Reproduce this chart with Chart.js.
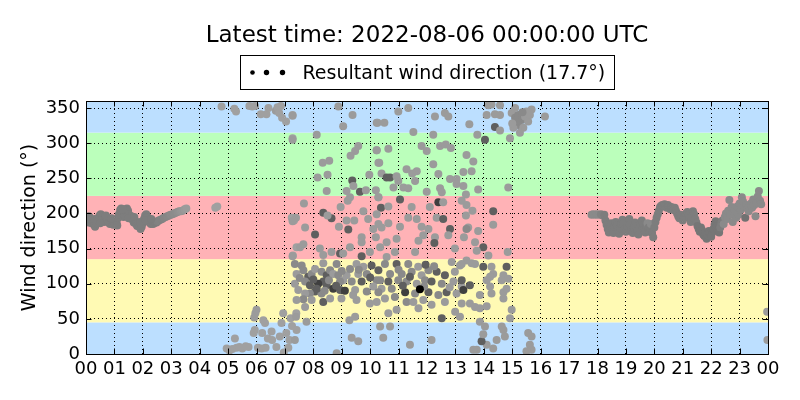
<!DOCTYPE html>
<html>
<head>
<meta charset="utf-8">
<script src="https://cdn.jsdelivr.net/npm/chart.js@4.4.1/dist/chart.umd.min.js"></script>
<style>
  html, body { margin: 0; padding: 0; background: #fff; }
  #wrap { width: 800px; height: 400px; position: relative; }
</style>
</head>
<body>
<div id="wrap"><canvas id="windChart"></canvas></div>
<script>
// each point: [hour of day (UTC), wind direction (deg), speed estimate (m/s)]
const nightBand = [
  [0.00,190,2],[0.04,193,2],[0.08,187,2],[0.12,195,2],[0.16,191,2],[0.20,186,2],[0.24,189,2],[0.28,184,2],
  [0.32,181,2],[0.36,186,2],[0.40,190,2],[0.44,194,2],[0.48,197,2],[0.52,199,2],[0.56,195,2],[0.60,191,2],
  [0.64,188,2],[0.68,192,2],[0.72,195,2],[0.76,190,2],[0.80,187,2],[0.84,185,2],[0.88,189,2],[0.92,186,2],
  [0.96,184,2],[1.00,188,2],[1.04,191,2],[1.08,186,2],[1.12,193,2],[1.16,199,2],[1.20,205,2],[1.24,207,2],
  [1.28,201,2],[1.32,195,2],[1.36,197,2],[1.40,203,2],[1.44,207,2],[1.48,204,2],[1.52,198,2],[1.56,193,2],
  [1.60,196,2],[1.64,191,2],[1.68,187,2],[1.72,190,2],[1.76,185,2],[1.80,182,2],[1.84,186,2],[1.88,181,2],
  [1.92,178,2],[1.96,181,2],[2.00,186,2],[2.04,192,2],[2.08,197,2],[2.12,199,2],[2.16,195,2],[2.20,190,2],
  [2.24,187,2],[2.28,185,2],[2.32,187,2],[2.36,185,2],[2.40,186,2],[2.44,188,2],[2.48,187,2],[2.52,189,1.8],
  [2.56,190,1.8],[2.62,191,1.8],[2.68,192,1.8],[2.74,194,1.7],[2.80,195,1.7],[2.86,196,1.6],[2.92,197,1.6],
  [2.98,198,1.5],[3.04,199,1.5],[3.10,200,1.4],[3.16,201,1.4],[3.22,202,1.3],[3.28,203,1.2],[3.34,203,1.1],
  [3.40,204,1],[3.47,206,0.9],[3.53,207,0.8],
  [0.10,196,2],[0.30,192,2],[0.50,186,2],[0.70,197,2],[0.90,193,2],[1.10,183,2],[1.30,206,2],[1.50,193,2],
  [1.70,195,2],[1.90,188,2],[2.10,190,2],[2.30,192,2]
];

const morningCalm = [
  [4.55,208,0.6],[4.62,210,0.6],
  [4.77,352,0.6],[5.22,349,0.6],[5.28,345,0.6],[5.75,353,0.6],[5.85,352,0.6],[5.95,353,0.6],[6.15,341,0.6],
  [6.35,341,0.6],[6.42,350,0.6],[6.68,346,0.8],[6.74,351,0.6],[6.80,343,0.6],[6.86,353,0.6],[6.90,336,0.6],
  [7.04,331,0.6],[7.27,340,0.6],[7.27,307,0.6],
  [4.95,8,0.6],[5.05,5,0.6],[5.15,7,0.6],[5.24,22,0.6],[5.30,9,0.6],[5.40,10,0.6],[5.50,8,0.6],[5.62,11,0.6],
  [5.72,10,0.6],[5.92,52,0.8],[5.96,58,0.8],[6.00,63,0.8],[5.94,34,0.6],[5.90,30,0.6],[6.05,9,0.6],[6.18,8,0.6],
  [6.20,30,0.6],[6.24,48,0.6],[6.30,44,0.6],[6.32,9,0.6],[6.40,22,0.6],[6.53,32,0.6],[6.55,20,0.6],[6.70,10,0.6],
  [6.82,25,0.6],[6.88,44,0.6],[6.94,58,0.6],[6.96,2,0.6],[7.05,30,0.6],[7.12,9,0.6],[7.16,20,0.6],[7.20,51,0.6],
  [7.25,40,0.6],[7.41,34,0.6],[7.40,58,0.6],
  [7.24,194,0.6],[7.32,190,0.6],[7.28,140,0.6],[7.41,152,0.6]
];

const lateMorning = [
  [7.27,339,0.8],[8.88,352,0.8],[9.38,340,0.8],[9.05,324,0.8],[10.23,329,0.8],[8.12,312,0.8],[7.27,305,0.8],
  [9.58,296,0.8],[9.47,289,0.8],[9.31,282,0.8],[10.23,290,0.8],[8.56,275,0.8],[8.33,272,0.8],[10.32,272,0.8],
  [8.50,255,0.8],[8.15,251,0.8],[9.37,247,3.2],[9.41,239,0.8],[9.97,255,0.8],[8.47,232,0.8],[9.17,232,0.8],
  [9.64,231,3.2],[9.85,233,0.8],[10.20,233,0.8],[9.29,223,0.8],[9.21,218,0.8],[10.29,223,0.8],[7.67,214,0.8],
  [8.96,209,0.8],[8.35,201,3.2],[8.64,193,3.2],[8.50,197,0.8],[7.39,194,0.8],[7.27,189,0.8],[7.71,180,0.8],
  [9.17,190,0.8],[9.44,190,0.8],[9.76,203,0.8],[9.93,192,0.8],[8.90,181,0.8],[9.23,177,3.2],[8.06,170,3.2],
  [10.11,178,0.8],[10.29,185,0.8],[9.70,166,0.8],[7.65,156,0.8],[7.53,152,0.8],[9.29,152,0.8],[9.70,159,0.8],
  [7.27,139,0.8],[8.23,150,0.8],[8.35,141,0.8],[8.64,145,0.8],[8.94,143,3.2],[9.05,143,0.8],[9.70,139,3.2],
  [9.99,145,0.8],[10.20,166,0.8],
  [7.35,128,1.5],[7.59,126,1.5],[7.41,114,0.8],[7.65,119,1.5],[7.82,110,3.2],[7.71,103,1.5],[7.88,98,3.2],
  [7.94,114,1.5],[8.06,121,0.8],[8.29,117,1.5],[8.47,112,3.2],[8.59,119,1.5],[8.70,114,0.8],[8.88,112,1.5],
  [8.35,103,3.2],[8.17,100,4.5],[8.47,98,3.2],[8.70,93,4.5],[8.94,91,3.2],[9.11,90,4.5],[8.06,89,3.2],
  [7.88,86,1.5],[7.71,86,0.8],[7.47,91,0.8],[7.35,100,0.8],[7.65,78,1.5],[7.41,77,0.8],[7.71,67,0.8],
  [8.35,74,3.2],[8.29,86,1.5],[8.59,79,0.8],[9.47,91,0.8],[9.52,77,0.8],[9.88,89,1.5],[9.70,103,3.2],
  [9.88,114,1.5],[10.05,126,3.2],[9.76,124,0.8],[10.23,105,1.5],[10.11,96,0.8],[9.99,72,0.8],[9.35,103,1.5],
  [9.17,112,0.8],[9.05,105,0.8],[9.29,121,1.5],[9.52,128,0.8],[8.82,128,1.5],[8.35,129,0.8],[9.58,114,0.8],
  [8.94,103,1.5],[7.94,77,0.8],[8.99,79,0.8],[7.39,53,0.8],[7.76,46,0.8],[9.27,48,0.8],[9.47,53,0.8],
  [7.52,108,1.5],[8.00,106,3.2],[8.12,93,3.2],[8.40,90,1.5],[8.55,105,1.5],[8.80,97,3.2],[9.00,118,1.5],
  [9.40,84,0.8],[9.60,120,1.5],[10.00,109,3.2],
  [7.35,20,0.8],[9.35,23,0.8],[9.58,18,0.8],[8.82,1,0.8]
];

const midday = [
  [10.99,345,0.8],[11.34,350,0.8],[12.28,338,0.8],[12.63,343,0.8],[12.75,338,0.8],[10.26,329,0.8],[10.50,329,0.8],
  [11.52,316,0.8],[12.22,312,0.8],[11.81,296,0.8],[11.99,289,0.8],[12.46,296,0.8],[12.66,298,0.8],[12.84,293,0.8],
  [10.64,292,0.8],[10.23,290,0.8],[12.22,270,0.8],[12.40,256,0.8],[11.64,260,0.8],[11.48,257,0.8],[11.28,263,0.8],
  [10.29,272,0.8],[10.40,257,0.8],[10.58,251,3.2],[10.70,251,3.2],[10.93,253,0.8],[10.99,246,0.8],[11.58,246,0.8],
  [11.17,237,0.8],[11.34,236,0.8],[12.46,236,0.8],[12.81,249,0.8],[13.04,249,0.8],[11.99,231,0.8],[12.52,230,0.8],
  [13.04,242,0.8],[10.82,237,0.8],
  [11.05,220,3.2],[12.40,216,4.5],[12.10,209,0.8],[12.57,216,0.8],[10.29,223,0.8],[10.38,208,3.2],[10.64,210,0.8],
  [11.46,209,0.8],[10.23,199,0.8],[11.34,194,0.8],[11.64,192,0.8],[12.34,194,0.8],[12.57,192,3.2],[10.40,180,0.8],
  [10.64,186,0.8],[11.05,181,0.8],[11.81,181,0.8],[12.05,178,0.8],[12.81,178,3.2],[11.87,169,0.8],[11.70,161,0.8],
  [12.28,166,0.8],[12.75,169,0.8],[10.35,152,0.8],[10.93,164,0.8],[10.58,159,0.8],[12.26,158,3.2],[12.98,150,0.8],
  [10.87,145,0.8],[11.58,145,0.8],[10.58,138,0.8],
  [10.52,128,1.5],[10.93,128,3.2],[11.34,128,1.5],[11.69,124,0.8],[12.05,119,1.5],[12.34,117,3.2],[12.87,131,0.8],
  [13.16,126,0.8],[10.29,119,3.2],[10.70,114,1.5],[11.11,114,1.5],[11.46,117,1.5],[11.81,112,0.8],[12.63,112,3.2],
  [12.98,117,0.8],[10.35,105,1.5],[10.64,103,3.2],[10.99,105,1.5],[11.28,103,1.5],[11.64,100,0.8],[11.93,105,1.5],
  [12.16,103,3.2],[12.52,100,1.5],[12.93,103,0.8],[13.22,96,0.8],[10.40,93,0.8],[10.76,93,1.5],[11.23,88,4.5],
  [11.58,86,1.5],[12.05,88,3.2],[12.40,84,1.5],[12.69,88,3.2],[13.04,86,0.8],[10.23,74,0.8],[10.52,79,0.8],
  [10.87,81,1.5],[11.28,74,1.5],[11.52,74,0.8],[11.87,77,0.8],[12.16,70,0.8],[12.63,74,0.8],[10.93,63,0.8],
  [10.64,58,0.8],[11.70,65,0.8],[12.52,51,3.2],[12.99,60,0.8],[13.16,53,0.8],[10.29,88,1.5],[11.00,120,1.5],
  [11.40,110,3.2],[11.90,96,1.5],[12.25,125,1.5],[12.80,95,0.8],[11.15,97,3.2],[11.95,127,3.2],[11.75,92,7],
  [10.35,39,0.8],[10.70,39,0.8],[10.46,23,0.8],[11.40,13,0.8],[12.16,20,0.8]
];

const afternoon = [
  [14.16,354,0.8],[14.27,355,0.8],[14.57,354,0.8],[14.10,340,0.8],[14.39,341,0.8],[14.57,340,0.8],[13.49,327,0.8],
  [14.39,323,3.2],[14.57,318,0.8],[14.04,305,3.2],[14.92,307,0.8],[14.98,343,0.8],[15.10,336,1.5],[15.21,340,1.5],
  [15.33,333,1.5],[15.45,338,0.8],[15.56,331,0.8],[15.62,340,0.8],[15.21,326,1.5],[15.04,322,0.8],[15.39,322,0.8],
  [15.50,345,0.8],[15.27,315,0.8],[15.10,350,0.8],[15.68,348,0.8],[15.15,331,1.5],[15.00,328,0.8],[15.36,344,1.5],
  [16.15,338,0.8],
  [13.77,312,0.8],[13.39,283,0.8],[13.63,274,0.8],[13.28,259,0.8],[13.57,260,0.8],[13.80,234,0.8],[14.86,237,0.8],
  [13.28,239,0.8],[13.37,227,0.8],
  [13.22,218,0.8],[13.39,212,0.8],[13.60,204,0.8],[13.37,197,0.8],[14.33,203,3.2],[14.33,184,0.8],[13.45,180,0.8],
  [13.39,178,1.5],[13.80,175,0.8],[13.30,166,0.8],[13.69,159,0.8],[13.98,152,3.2],[14.16,140,0.8],[14.84,145,0.8],
  [13.75,147,0.8],[13.39,133,0.8],
  [13.22,128,0.8],[13.57,129,0.8],[13.69,128,0.8],[13.98,124,3.2],[14.27,124,0.8],[14.33,114,0.8],[14.22,110,0.8],
  [14.10,105,0.8],[14.69,112,0.8],[14.80,124,3.2],[14.63,105,0.8],[14.86,107,0.8],[13.22,105,3.2],[13.51,98,3.2],
  [13.28,91,4.5],[14.22,96,0.8],[14.27,86,0.8],[14.69,88,0.8],[14.80,93,0.8],[13.86,84,0.8],[13.51,72,0.8],
  [13.69,67,0.8],[13.86,65,0.8],[14.10,68,0.8],[14.69,79,0.8],[14.98,63,0.8],[14.92,51,0.8],[13.22,72,0.8],
  [13.86,46,0.8],[14.04,39,0.8],[14.63,39,0.8],[14.69,34,0.8],[14.74,25,0.8],[14.45,20,0.8],[14.10,13,0.8],
  [13.92,18,3.2],[13.75,6,0.8],[13.63,6,0.8],[14.33,8,0.8],[15.56,30,0.8],[15.62,13,0.8],[15.68,6,0.8],
  [15.50,4,0.8],[15.68,25,0.8],[13.98,28,0.8]
];

const eveningBand = [
  [17.79,198,1.5],[17.85,199,1.5],[17.92,198,1.5],[17.98,199,1.5],[18.05,198,1.5],[18.12,199,1.8],[18.18,197,1.8],
  [18.24,198,2],[18.28,190,2],[18.32,184,2],[18.36,178,2],[18.40,173,2],[18.44,180,2],[18.48,186,2],[18.52,176,2],
  [18.56,172,2],[18.60,181,2],[18.64,188,2],[18.68,183,2],[18.72,177,2],[18.76,171,2],[18.80,179,2],[18.84,185,2],
  [18.88,191,2],[18.92,186,2],[18.96,178,2],[19.00,174,2],[19.04,182,2],[19.08,188,2],[19.12,192,2],[19.16,185,2],
  [19.20,178,2],[19.24,172,2],[19.28,180,2],[19.32,187,2],[19.36,181,2],[19.40,175,2],[19.44,170,2],[19.48,178,2],
  [19.52,184,2],[19.56,190,2],[19.60,183,2],[19.64,177,2],[19.68,173,2],[19.72,181,2],[19.76,186,1.5],[19.80,180,2],
  [19.84,174,2],[19.88,185,1.5],[19.92,172,2],[19.96,166,2],[20.00,180,2],[20.04,188,2],[20.08,194,2],[20.12,199,2],
  [20.16,204,2],[20.20,209,2],[20.24,211,2],[20.28,212,2],[20.32,210,2],[20.36,213,2],[20.40,211,2],[20.44,208,2],
  [20.48,212,2],[20.52,210,2],[20.56,206,2],[20.60,209,2],[20.64,207,2],[20.68,205,2],[20.72,208,2],[20.76,204,2],
  [20.80,200,2],[20.84,196,2],[20.88,193,2],[20.92,198,2],[20.96,195,2],[21.00,190,2],[21.04,194,2],[21.08,197,2],
  [21.12,200,2],[21.16,202,2],[21.20,198,2],[21.24,193,2],[21.28,188,2],[21.32,195,2],[21.36,203,2],[21.40,199,2],
  [21.44,192,2],[21.48,187,2],[21.52,182,2.3],[21.56,178,2.3],[21.60,174,2.3],[21.64,180,2.3],[21.68,176,2.3],
  [21.72,170,2.3],[21.76,168,2.3],[21.80,172,2.3],[21.84,164,2.3],[21.88,169,2.3],[21.92,175,2.3],[21.96,171,2.3],
  [22.00,167,2.3],[22.04,173,2.3],[22.08,178,2.3],[22.12,184,2.3],[22.16,189,2.3],[22.20,182,2.3],[22.24,176,2.3],
  [22.28,173,2.3],[22.32,180,2],[22.36,186,2],[22.40,190,2],[22.44,185,1.5],[22.48,195,1.5],[22.52,200,1.5],
  [22.56,192,1.5],[22.60,204,1.5],[22.64,219,1.5],[22.68,198,1.5],[22.72,209,1.5],[22.76,188,1.5],[22.80,201,1.5],
  [22.84,205,1.5],[22.88,194,1.5],[22.92,210,1.5],[22.96,198,1.5],[23.00,214,1.5],[23.04,205,1.5],[23.08,223,1.5],
  [23.12,217,1.5],[23.16,210,1.5],[23.20,194,2.5],[23.24,212,1.5],[23.28,207,1.5],[23.32,203,1.5],[23.40,214,1.5],
  [23.44,208,1.5],[23.48,220,1.5],[23.52,212,1.5],[23.56,196,1.5],[23.60,215,1.5],[23.64,224,1.5],[23.68,232,1.5],
  [23.72,218,1.5],[23.76,213,1.5],
  [23.97,60,0.8],[23.98,20,0.8]
];

const xTickHours = [0,1,2,3,4,5,6,7,8,9,10,11,12,13,14,15,16,17,18,19,20,21,22,23,24];
const xTickLabels = ["00","01","02","03","04","05","06","07","08","09","10","11","12",
  "13","14","15","16","17","18","19","20","21","22","23","00"];
const yTicks = [0, 50, 100, 150, 200, 250, 300, 350];
// compass sectors behind the points (deg)
const sectorEdges = [0, 45, 135, 225, 315, 360];
const sectorColors = ["#bcdfff", "#fffab4", "#ffb2b6", "#bbffbb", "#bcdfff"];

const titleText = "Latest time: 2022-08-06 00:00:00 UTC";
const legendText = "Resultant wind direction (17.7\u00b0)";
const FONT = "'DejaVu Sans', 'Liberation Sans', sans-serif";

const points = [].concat(nightBand, morningCalm, lateMorning, midday, afternoon, eveningBand)
  .map(p => ({ x: p[0], y: p[1], s: p[2] }));

function greyFor(speed) {
  const g = Math.max(0, Math.round(175 - 25 * speed));
  return "rgb(" + g + "," + g + "," + g + ")";
}

// coloured sectors, drawn before the grid
const sectorPlugin = {
  id: "sectors",
  beforeDraw(chart) {
    const { ctx, chartArea, scales } = chart;
    ctx.save();
    for (let i = 0; i < sectorColors.length; i++) {
      const y1 = scales.y.getPixelForValue(sectorEdges[i]);
      const y2 = scales.y.getPixelForValue(sectorEdges[i + 1]);
      ctx.fillStyle = sectorColors[i];
      ctx.fillRect(chartArea.left, y2, chartArea.right - chartArea.left, y1 - y2);
    }
    ctx.restore();
  }
};

// frame, inward ticks, title and legend box (matplotlib look)
const framePlugin = {
  id: "frame",
  afterDraw(chart) {
    const { ctx, chartArea: a, scales } = chart;
    ctx.save();
    ctx.strokeStyle = "#000";
    ctx.lineWidth = 1;
    const tl = 5.5;
    ctx.beginPath();
    xTickHours.forEach(h => {
      const x = Math.round(scales.x.getPixelForValue(h)) + 0.5;
      ctx.moveTo(x, a.bottom); ctx.lineTo(x, a.bottom - tl);
      ctx.moveTo(x, a.top); ctx.lineTo(x, a.top + tl);
    });
    yTicks.forEach(v => {
      const y = Math.round(scales.y.getPixelForValue(v)) + 0.5;
      ctx.moveTo(a.left, y); ctx.lineTo(a.left + tl, y);
      ctx.moveTo(a.right, y); ctx.lineTo(a.right - tl, y);
    });
    ctx.stroke();
    ctx.strokeRect(Math.round(a.left) + 0.5, Math.round(a.top) + 0.5,
      Math.round(a.right - a.left), Math.round(a.bottom - a.top));

    // title
    const cx = (a.left + a.right) / 2;
    ctx.fillStyle = "#000";
    ctx.font = "23px " + FONT;
    ctx.textAlign = "center";
    ctx.textBaseline = "alphabetic";
    ctx.fillText(titleText, cx, 42);

    // legend
    ctx.font = "19px " + FONT;
    const tw = ctx.measureText(legendText).width;
    const boxW = tw + 71;
    const bx = Math.round(cx - boxW / 2) + 0.5;
    ctx.strokeRect(bx, 55.5, Math.round(boxW), 34);
    [[12, 2.3], [26, 2.7], [42, 2.7]].forEach(d => {
      ctx.beginPath();
      ctx.arc(bx + d[0], 72.5, d[1], 0, Math.PI * 2);
      ctx.fill();
    });
    ctx.textAlign = "left";
    ctx.fillText(legendText, bx + 62, 78.5);
    ctx.restore();
  }
};

const ctx = document.getElementById("windChart").getContext("2d");
new Chart(ctx, {
  type: "scatter",
  data: {
    datasets: [{
      label: legendText,
      data: points,
      pointRadius: 4,
      pointHoverRadius: 4,
      pointBorderWidth: 0,
      backgroundColor: c => greyFor(c.raw ? c.raw.s : 1),
      borderColor: "rgba(0,0,0,0)",
      clip: 0
    }]
  },
  options: {
    responsive: true,
    maintainAspectRatio: false,
    animation: false,
    layout: { padding: { top: 101, right: 32, left: 0, bottom: 0 } },
    plugins: {
      legend: { display: false },
      title: { display: false },
      tooltip: { enabled: false }
    },
    scales: {
      x: {
        type: "linear",
        min: 0,
        max: 24,
        afterBuildTicks: s => { s.ticks = xTickHours.map(v => ({ value: v })); },
        afterFit: s => { s.height = 46; },
        ticks: {
          autoSkip: false,
          maxRotation: 0,
          padding: 5,
          color: "#000",
          font: { family: FONT, size: 18 },
          callback: (v, i) => xTickLabels[i]
        },
        grid: { color: "#000", lineWidth: 1, drawTicks: false },
        border: { display: false, dash: [1, 3] }
      },
      y: {
        min: 0,
        max: 360,
        afterBuildTicks: s => { s.ticks = yTicks.map(v => ({ value: v })); },
        afterFit: s => { s.width = 86; },
        ticks: {
          padding: 6,
          color: "#000",
          font: { family: FONT, size: 18 }
        },
        grid: { color: "#000", lineWidth: 1, drawTicks: false },
        border: { display: false, dash: [1, 3] },
        title: {
          display: true,
          text: "Wind direction (\u00b0)",
          color: "#000",
          font: { family: FONT, size: 19 },
          padding: { top: 19, bottom: 0 }
        }
      }
    }
  },
  plugins: [sectorPlugin, framePlugin]
});
</script>
</body>
</html>
